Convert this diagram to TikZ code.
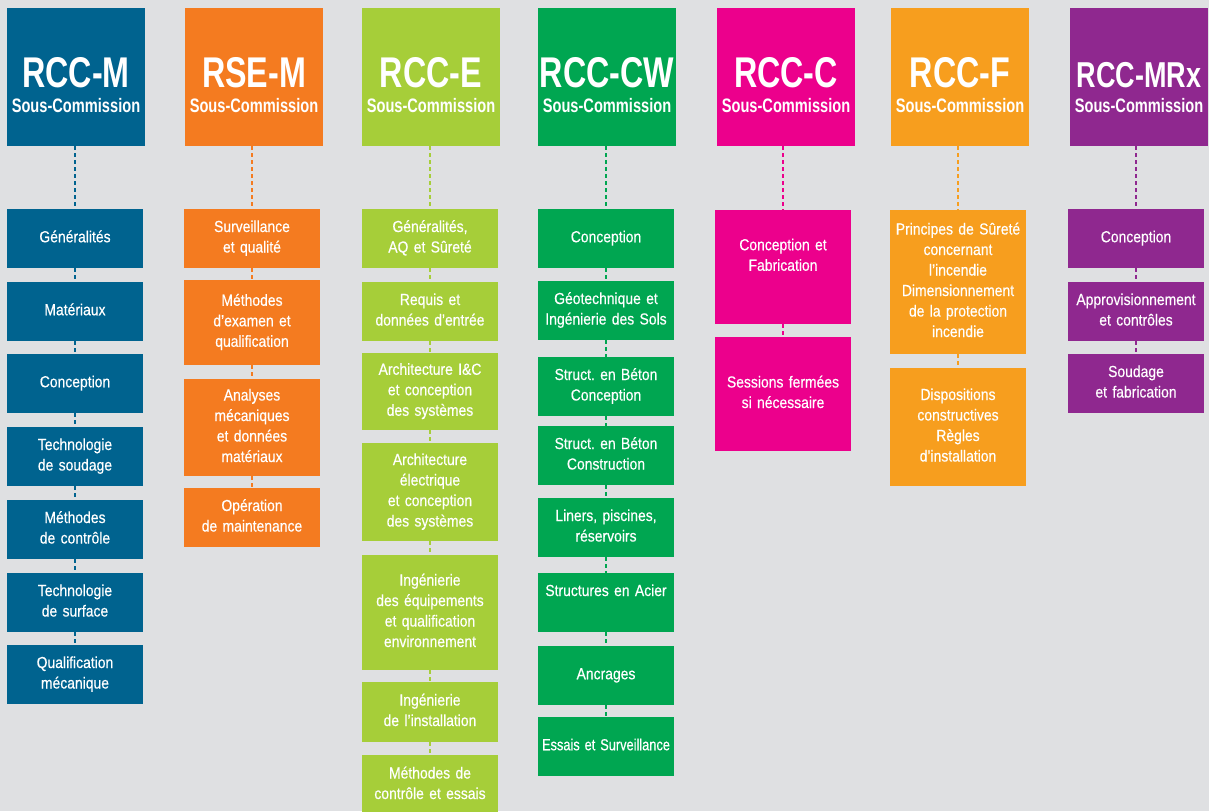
\documentclass[tikz,border=0pt]{standalone}
\usepackage{fontspec}
\usepackage{graphicx}
\setmainfont{Liberation Sans}
\newfontfamily\hdfont[FakeStretch=0.75]{Liberation Sans}
\newfontfamily\bxfont[FakeStretch=0.87,FakeBold=0.4,WordSpace=0.8]{Liberation Sans}
\definecolor{bg}{HTML}{DFE0E2}
\definecolor{cM}{HTML}{00638F}
\definecolor{cS}{HTML}{F47B20}
\definecolor{cE}{HTML}{A6CE39}
\definecolor{cW}{HTML}{00A651}
\definecolor{cC}{HTML}{EC008C}
\definecolor{cF}{HTML}{F79E1E}
\definecolor{cX}{HTML}{8F288F}
\newcommand\bxstrut{\rule[-6.5pt]{0pt}{20.5pt}}
\frenchspacing
\tikzset{
  hbox/.style={rectangle, fill=#1, minimum width=138, minimum height=138, inner sep=0},
  htitle/.style={anchor=base, text=white, inner sep=0, font=\hdfont\bfseries},
  hsub/.style={anchor=base, text=white, inner sep=0, font=\hdfont\bfseries\fontsize{19.5}{20}\selectfont},
  sbox/.style={rectangle, fill=#1, text=white, minimum width=136, inner sep=0,
    align=center, text width=134, font=\bxfont\fontsize{16}{20.5}\selectfont,
    execute at begin node=\bxstrut, execute at end node=\bxstrut},
  conn/.style={draw=#1, line width=1.5, dash pattern=on 4pt off 3pt},
}
\newcommand\mkhead[5]{%
  \node[hbox=#2] (#1) at (#3,77) {};
  \node[htitle] (#1t) at (#3,87) {\fontsize{#5}{#5}\selectfont #4};
  \node[hsub] (#1s) at (#3,112) {Sous-Commission};
}
\newcommand\mkbox[6]{%
  \node[sbox=#2, minimum height={#5-#4}] (#1) at (#3,{(#4+#5)/2}) {#6};
}
\begin{document}
\begin{tikzpicture}[x=1pt,y=-1pt]
\useasboundingbox (0,0) rectangle (1209,811);
\clip (0,0) rectangle (1209,811);
\fill[bg] (0,0) rectangle (1209,811);

% headers
\mkhead{hM}{cM}{76}{RCC-M}{43}
\mkhead{hS}{cS}{254}{RSE-M}{43}
\mkhead{hE}{cE}{431}{RCC-E}{43}
\mkhead{hW}{cW}{607}{RCC-CW}{43}
\mkhead{hC}{cC}{786}{RCC-C}{43}
\mkhead{hF}{cF}{960}{RCC-F}{43}
\mkhead{hX}{cX}{1139}{RCC-MRx}{36}

% RCC-M
\mkbox{a1}{cM}{75}{209}{268}{Généralités}
\mkbox{a2}{cM}{75}{282}{341}{Matériaux}
\mkbox{a3}{cM}{75}{354}{413}{Conception}
\mkbox{a4}{cM}{75}{427}{486}{Technologie\\de soudage}
\mkbox{a5}{cM}{75}{500}{559}{Méthodes\\de contrôle}
\mkbox{a6}{cM}{75}{573}{632}{Technologie\\de surface}
\mkbox{a7}{cM}{75}{645}{704}{Qualification\\mécanique}

% RSE-M
\mkbox{b1}{cS}{252}{209}{268}{Surveillance\\et qualité}
\mkbox{b2}{cS}{252}{280}{365}{Méthodes\\d’examen et\\qualification}
\mkbox{b3}{cS}{252}{379}{476}{Analyses\\mécaniques\\et données\\matériaux}
\mkbox{b4}{cS}{252}{488}{547}{Opération\\de maintenance}

% RCC-E
\mkbox{c1}{cE}{430}{209}{268}{Généralités,\\AQ et Sûreté}
\mkbox{c2}{cE}{430}{282}{341}{Requis et\\données d’entrée}
\mkbox{c3}{cE}{430}{353}{430}{Architecture I\&C\\et conception\\des systèmes}
\mkbox{c4}{cE}{430}{443}{541}{Architecture\\électrique\\et conception\\des systèmes}
\mkbox{c5}{cE}{430}{555}{670}{Ingénierie\\des équipements\\et qualification\\environnement}
\mkbox{c6}{cE}{430}{682}{742}{Ingénierie\\de l’installation}
\mkbox{c7}{cE}{430}{755}{815}{Méthodes de\\contrôle et essais}

% RCC-CW
\mkbox{d1}{cW}{606}{209}{268}{Conception}
\mkbox{d2}{cW}{606}{281}{340}{Géotechnique et\\Ingénierie des Sols}
\mkbox{d3}{cW}{606}{357}{416}{Struct. en Béton\\Conception}
\mkbox{d4}{cW}{606}{426}{485}{Struct. en Béton\\Construction}
\mkbox{d5}{cW}{606}{498}{557}{Liners, piscines,\\réservoirs}
\mkbox{d6}{cW}{606}{573}{632}{Structures en Acier\\~}
\mkbox{d7}{cW}{606}{646}{705}{Ancrages}
\mkbox{d8}{cW}{606}{717}{776}{\scalebox{0.92}[1]{Essais et Surveillance}}

% RCC-C
\mkbox{e1}{cC}{783}{210}{324}{Conception et\\Fabrication\\~}
\mkbox{e2}{cC}{783}{337}{451}{Sessions fermées\\si nécessaire}

% RCC-F
\mkbox{f1}{cF}{958}{210}{354}{Principes de Sûreté\\concernant\\l’incendie\\Dimensionnement\\de la protection\\incendie}
\mkbox{f2}{cF}{958}{368}{486}{Dispositions\\constructives\\Règles\\d’installation}

% RCC-MRx
\mkbox{g1}{cX}{1136}{209}{268}{Conception}
\mkbox{g2}{cX}{1136}{282}{341}{Approvisionnement\\et contrôles}
\mkbox{g3}{cX}{1136}{354}{413}{Soudage\\et fabrication}

% connectors
\draw[conn=cM] (a1.north |- hM.south) -- (a1.north);
\draw[conn=cM] (a1.south) -- (a2.north);
\draw[conn=cM] (a2.south) -- (a3.north);
\draw[conn=cM] (a3.south) -- (a4.north);
\draw[conn=cM] (a4.south) -- (a5.north);
\draw[conn=cM] (a5.south) -- (a6.north);
\draw[conn=cM] (a6.south) -- (a7.north);

\draw[conn=cS] (b1.north |- hS.south) -- (b1.north);
\draw[conn=cS] (b1.south) -- (b2.north);
\draw[conn=cS] (b2.south) -- (b3.north);
\draw[conn=cS] (b3.south) -- (b4.north);

\draw[conn=cE] (c1.north |- hE.south) -- (c1.north);
\draw[conn=cE] (c1.south) -- (c2.north);
\draw[conn=cE] (c2.south) -- (c3.north);
\draw[conn=cE] (c3.south) -- (c4.north);
\draw[conn=cE] (c4.south) -- (c5.north);
\draw[conn=cE] (c5.south) -- (c6.north);
\draw[conn=cE] (c6.south) -- (c7.north);

\draw[conn=cW] (d1.north |- hW.south) -- (d1.north);
\draw[conn=cW] (d1.south) -- (d2.north);
\draw[conn=cW] (d2.south) -- (d3.north);
\draw[conn=cW] (d3.south) -- (d4.north);
\draw[conn=cW] (d4.south) -- (d5.north);
\draw[conn=cW] (d5.south) -- (d6.north);
\draw[conn=cW] (d6.south) -- (d7.north);
\draw[conn=cW] (d7.south) -- (d8.north);

\draw[conn=cC] (e1.north |- hC.south) -- (e1.north);
\draw[conn=cC] (e1.south) -- (e2.north);

\draw[conn=cF] (f1.north |- hF.south) -- (f1.north);
\draw[conn=cF] (f1.south) -- (f2.north);

\draw[conn=cX] (g1.north |- hX.south) -- (g1.north);
\draw[conn=cX] (g1.south) -- (g2.north);
\draw[conn=cX] (g2.south) -- (g3.north);
\end{tikzpicture}
\end{document}
